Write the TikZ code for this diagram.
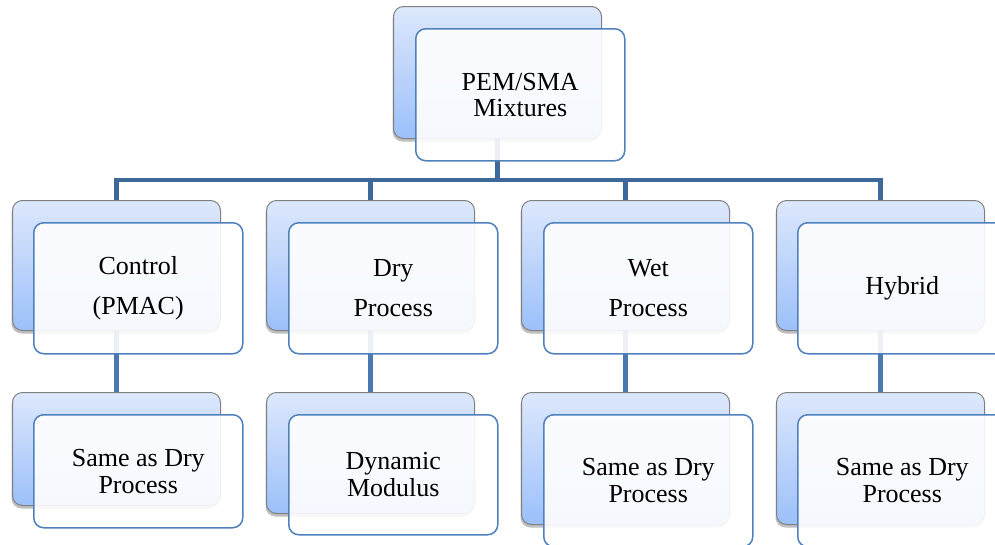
\documentclass[tikz,border=0pt]{standalone}
\usepackage{fontspec}
\setmainfont{Liberation Serif}
\usetikzlibrary{shadows}
\definecolor{backtop}{HTML}{DDE8FC}
\definecolor{backbot}{HTML}{9CC0FA}
\definecolor{backline}{HTML}{808080}
\definecolor{frontline}{HTML}{4F81BD}
\definecolor{barcol}{HTML}{3E6899}
\definecolor{linkcol}{HTML}{4A78AF}
\pgfdeclarelayer{bg}
\pgfsetlayers{bg,main}
\tikzset{
  backbox/.style={rectangle, rounded corners=10pt, draw=backline, line width=1pt,
    top color=backtop, bottom color=backbot, minimum width=208pt, anchor=north west,
    inner sep=0pt,
    drop shadow={shadow xshift=-1pt, shadow yshift=-3pt, opacity=0.25, fill=black}},
  frontbox/.style={rectangle, rounded corners=10pt, draw=frontline, line width=1.5pt,
    fill=white, fill opacity=0.9, text opacity=1, minimum width=209pt,
    anchor=north west, align=center, inner sep=0pt,
    font=\fontsize{26}{26}\selectfont},
  frontwide/.style={frontbox, font=\fontsize{26}{40}\selectfont},
  frontlow/.style={frontbox, font=\fontsize{26}{27}\selectfont},
  bar/.style={draw=barcol, line width=4.8pt},
  link/.style={draw=linkcol, line width=5pt}
}
\begin{document}
\begin{tikzpicture}[x=1pt, y=-1pt]
\useasboundingbox (0,0) rectangle (995,544);
\clip (0,0) rectangle (995,544);
\coordinate (bus) at (500,180);
% top
\node[backbox, minimum height=132pt] (b0) at (393,6) {};
\node[frontbox, minimum height=132pt] (f0) at (415,28) {PEM/SMA\\Mixtures};
% level 2
\node[backbox, minimum height=130pt] (c1) at (12,200) {};
\node[frontwide, minimum height=131pt] (g1) at (33,222) {Control\\(PMAC)};
\node[backbox, minimum height=130pt] (c2) at (266,200) {};
\node[frontwide, minimum height=131pt] (g2) at (288,222) {Dry\\Process};
\node[backbox, minimum height=130pt] (c3) at (521,200) {};
\node[frontwide, minimum height=131pt] (g3) at (543,222) {Wet\\Process};
\node[backbox, minimum height=130pt] (c4) at (776,200) {};
\node[frontwide, minimum height=131pt] (g4) at (797,222) {Hybrid};
% level 3
\node[backbox, minimum height=113pt] (d1) at (12,392) {};
\node[frontlow, minimum height=113pt] (h1) at (33,414) {Same as Dry\\Process};
\node[backbox, minimum height=121pt] (d2) at (266,392) {};
\node[frontlow, minimum height=120pt] (h2) at (288,414) {Dynamic\\Modulus};
\node[backbox, minimum height=132pt] (d3) at (521,392) {};
\node[frontlow, minimum height=132pt] (h3) at (543,414) {Same as Dry\\Process};
\node[backbox, minimum height=132pt] (d4) at (776,392) {};
\node[frontlow, minimum height=132pt] (h4) at (797,414) {Same as Dry\\Process};
% connectors
\begin{pgfonlayer}{bg}
\draw[bar] (b0.south) -- (b0.south |- bus);
\draw[bar] (c1.north) |- (bus -| c4.north) -- (c4.north);
\draw[bar] (c2.north) -- (c2.north |- bus);
\draw[bar] (c3.north) -- (c3.north |- bus);
\draw[link] (c1.south) -- (d1.north);
\draw[link] (c2.south) -- (d2.north);
\draw[link] (c3.south) -- (d3.north);
\draw[link] (c4.south) -- (d4.north);
\end{pgfonlayer}
\end{tikzpicture}
\end{document}
